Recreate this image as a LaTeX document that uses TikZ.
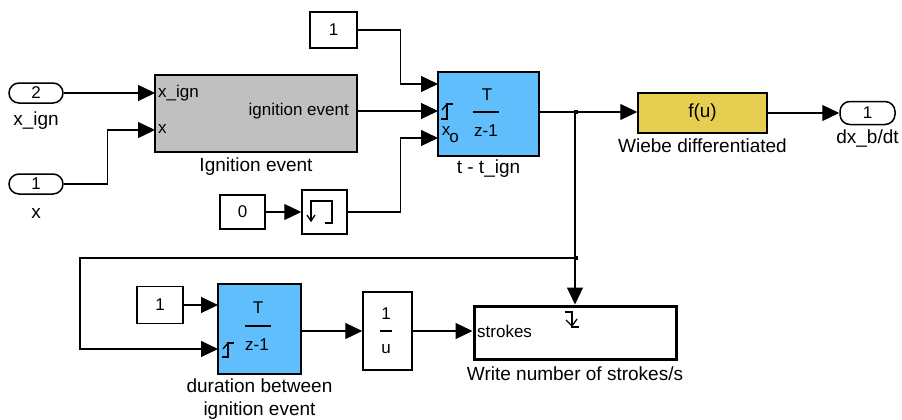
\documentclass[tikz,border=0pt]{standalone}
\usepackage{fontspec}
\setmainfont{Liberation Sans}
\usetikzlibrary{arrows.meta, positioning}

\definecolor{igngray}{RGB}{192,192,192}
\definecolor{zblue}{RGB}{96,190,253}
\definecolor{fyellow}{RGB}{230,207,80}

\begin{document}
\begin{tikzpicture}[x=1pt, y=-1pt,
  sig/.style={line width=1.2pt, -{Triangle[length=17pt, width=16pt]}},
  wire/.style={line width=1.2pt},
  blk/.style={draw, line width=1.5pt, inner sep=0pt, font=\fontsize{17}{19}\selectfont},
  port/.style={draw, line width=1.5pt, rounded corners=10pt, minimum width=54pt,
    minimum height=20pt, inner sep=0pt, font=\fontsize{17}{19}\selectfont},
  blkname/.style={inner sep=0pt, text height=13pt, text depth=4pt, font=\fontsize{19}{23}\selectfont},
  blkname2/.style={inner sep=0pt, align=center, font=\fontsize{19}{23}\selectfont},
  plab/.style={inner sep=0pt, font=\fontsize{17}{19}\selectfont},
  icon/.style={line width=1.3pt},
  jdot/.style={fill, inner sep=0pt, minimum size=4pt},
]
\useasboundingbox (0,0) rectangle (902,420);

  % inports
  \node[port] (in2) at (36,93) {2};
  \node[blkname, below=9pt of in2] (in2lab) {x\_ign};
  \node[port] (in1) at (36,184) {1};
  \node[blkname, below=11pt of in1] (in1lab) {x};

  % ignition event subsystem
  \node[blk, fill=igngray, minimum width=202pt, minimum height=77pt] (ign) at (256,113.5) {};
  \node[blkname, below=6pt of ign] (ignlab) {Ignition event};
  \node[plab, anchor=west] (ignxi) at (158,93) {x\_ign};
  \node[plab, anchor=west] (ignx) at (158,129) {x};
  \node[plab, anchor=east] (igno) at (349,111) {ignition event};
  \coordinate (ignA) at (155,93);
  \coordinate (ignB) at (155,130);
  \coordinate (ignO) at (357,111);

  % constants and reset
  \node[blk, minimum width=47pt, minimum height=36pt] (c1) at (333.5,30) {1};
  \node[blk, minimum width=45pt, minimum height=34pt] (c0) at (242.5,212) {0};
  \node[blk, minimum width=45pt, minimum height=44pt] (rst) at (324.5,212) {};
  \draw[icon] (311,221) -- (311,201) -- (332,201) -- (332,223) -- (325,223);
  \draw[icon] (307,215) -- (311,221) -- (315,215);

  % t - t_ign
  \node[blk, fill=zblue, minimum width=101pt, minimum height=84pt] (tign) at (488.5,114) {};
  \node[blkname, below=4pt of tign] (tignlab) {t - t\_ign};
  \node[plab] (tignT) at (487,95) {T};
  \draw[icon] (473,112) -- (499,112);
  \node[plab] (tignz) at (486,131) {z-1};
  \draw[icon] (441,119) -- (447,119) -- (447,104) -- (453,104);
  \draw[icon] (442,110) -- (447,104);
  \node[plab] (tignx) at (446,131) {x};
  \node[plab] (tigno) at (454,138) {o};
  \coordinate (tinA) at (438,84);
  \coordinate (tinB) at (438,111);
  \coordinate (tinC) at (438,138);

  % Wiebe and outport
  \node[blk, fill=fyellow, minimum width=129pt, minimum height=40pt,
    font=\fontsize{19}{21}\selectfont] (wiebe) at (702.5,113) {f(u)};
  \node[blkname, below=6pt of wiebe] (wiebelab) {Wiebe differentiated};
  \node[port, minimum width=55pt, minimum height=23pt] (out1) at (867.5,113) {1};
  \node[blkname, below=5pt of out1] (out1lab) {dx\_b/dt};

  % lower row
  \node[blk, minimum width=46pt, minimum height=37pt] (c2) at (160,305) {1};
  \node[blk, fill=zblue, minimum width=83pt, minimum height=90pt] (dur) at (259.5,329) {};
  \node[blkname2, below=4pt of dur] (durlab) {duration between\\ignition event};
  \node[plab] (durT) at (258,308) {T};
  \draw[icon] (245,326) -- (271,326);
  \node[plab] (durz) at (257,345) {z-1};
  \draw[icon] (222,357) -- (228,357) -- (228,343) -- (234,343);
  \draw[icon] (223,349) -- (228,343);
  \coordinate (durA) at (218,305);
  \coordinate (durB) at (218,349);

  \node[blk, minimum width=49pt, minimum height=78pt] (inv) at (387.5,331) {};
  \node[plab] (inv1) at (386,314) {1};
  \draw[icon] (380,331) -- (392,331);
  \node[plab] (invu) at (386,349) {u};

  \node[draw, line width=3pt, minimum width=202pt, minimum height=53pt, inner sep=0pt] (write) at (575,332.5) {};
  \node[blkname, below=7pt of write] (writelab) {Write number of strokes/s};
  \node[plab, anchor=west] (writein) at (477,331) {strokes};
  \draw[icon] (565,312) -- (572,312) -- (572,327) -- (579,327);
  \draw[icon] (566,320) -- (572,326) -- (577,319);

  % signals
  \coordinate (br1) at (575,112);
  \coordinate (br2) at (575,258);
  \draw[sig] (in2) -- (ignA);
  \draw[sig] (in1.east) -- ++(44,0) |- (ignB);
  \draw[sig] (ignO) -- (tinB);
  \draw[sig] (c1.east) -- ++(43,0) |- (tinA);
  \draw[sig] (c0) -- (rst);
  \draw[sig] (rst.east) -- ++(53,0) |- (tinC);
  \draw[sig] (tign.east |- br1) -- (wiebe.west |- br1);
  \draw[sig] (wiebe) -- (out1);
  \draw[wire] (br1) -- (br2);
  \draw[sig] (br2) -- (write.north);
  \draw[sig] (br2) -- ++(-495,0) |- (durB);
  \draw[sig] (c2) -- (durA);
  \draw[sig] (dur.east |- inv) -- (inv);
  \draw[sig] (inv) -- (write.west |- inv);
  \node[jdot] (j1) at ([xshift=1pt]br1) {};
  \node[jdot] (j2) at ([xshift=1pt]br2) {};

\end{tikzpicture}
\end{document}
